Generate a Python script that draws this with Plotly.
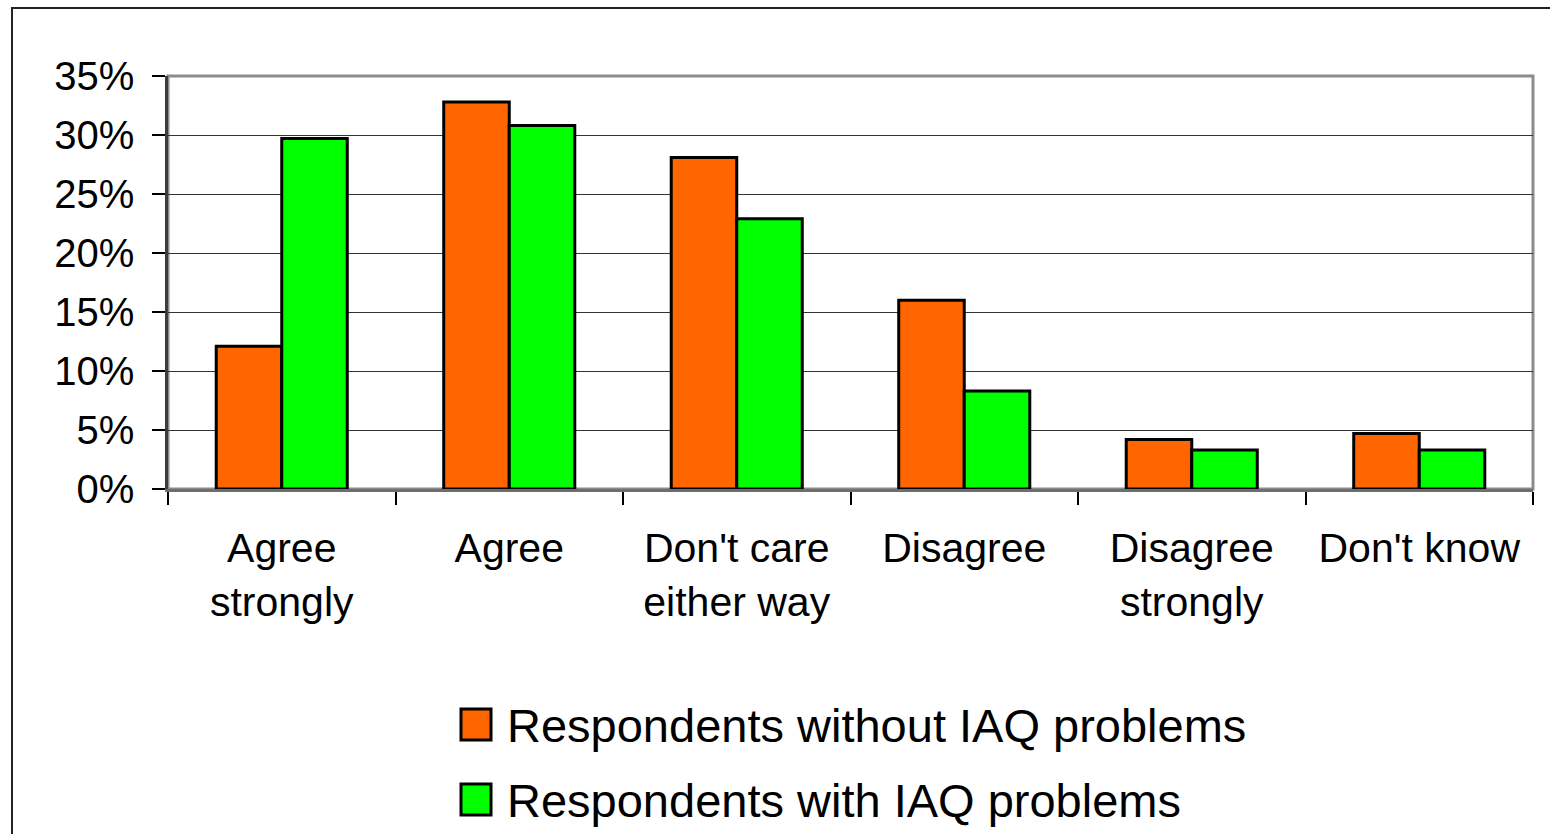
import plotly.graph_objects as go

categories = ["Agree<br>strongly", "Agree", "Don't care<br>either way", "Disagree",
              "Disagree<br>strongly", "Don't know"]
without_iaq = [12.1, 32.8, 28.1, 16.0, 4.2, 4.7]
with_iaq = [29.7, 30.8, 22.9, 8.3, 3.3, 3.3]
series_names = ["Respondents without IAQ problems", "Respondents with IAQ problems"]
series_colors = ["#FF6600", "#00FF00"]
y_ticks = [0, 5, 10, 15, 20, 25, 30, 35]
y_tick_text = [f"{v}%" for v in y_ticks]

W, H = 1550, 834
L, R, T, B = 168, 17, 76, 345
PW, PH = W - L - R, H - T - B

FONT = "Arial, 'Liberation Sans', sans-serif"


def px_x(x):
    return (x - L) / PW


def px_y(y):
    return (H - B - y) / PH


fig = go.Figure()
for name, vals, col in zip(series_names, [without_iaq, with_iaq], series_colors):
    fig.add_trace(go.Bar(
        x=categories, y=vals, name=name, showlegend=False,
        marker=dict(color=col, line=dict(color="black", width=3)),
    ))

shapes = [
    # outer frame (left and top edges visible)
    dict(type="rect", xref="paper", yref="paper",
         x0=px_x(12), x1=px_x(1600), y0=px_y(8), y1=px_y(900),
         line=dict(color="#222222", width=2), layer="below"),
    # plot area border
    dict(type="rect", xref="paper", yref="paper", x0=0, x1=1, y0=0, y1=1,
         line=dict(color="#8c8c8c", width=3), layer="below"),
]
annotations = []
legend_rows = [725, 800]
for name, col, yc in zip(series_names, series_colors, legend_rows):
    shapes.append(dict(type="rect", xref="paper", yref="paper",
                       x0=px_x(461), x1=px_x(491), y0=px_y(yc - 16), y1=px_y(yc + 15),
                       fillcolor=col, line=dict(color="black", width=3)))
    annotations.append(dict(xref="paper", yref="paper", x=px_x(505), y=px_y(yc),
                            xanchor="left", yanchor="middle", showarrow=False,
                            text=name, font=dict(size=47, color="black", family=FONT)))

fig.update_layout(
    width=W, height=H,
    margin=dict(l=L, r=R, t=T, b=B, pad=0),
    paper_bgcolor="white", plot_bgcolor="white",
    barmode="group", bargap=0.424, bargroupgap=0,
    font=dict(family=FONT, color="black", size=41),
    shapes=shapes, annotations=annotations,
    xaxis=dict(
        type="category", tickson="boundaries", ticks="outside", ticklen=13,
        tickcolor="black", tickwidth=1.5, showline=True, linecolor="#6e6e6e",
        linewidth=3, showgrid=False, tickfont=dict(size=41), ticklabelstandoff=21,
    ),
    yaxis=dict(
        range=[0, 35], tickmode="array", tickvals=y_ticks, ticktext=y_tick_text,
        ticks="outside", ticklen=13, tickcolor="black", tickwidth=1.5, showline=True,
        linecolor="#3c3c3c", linewidth=2.5, showgrid=True, gridcolor="#333333",
        gridwidth=1.2, zeroline=False, tickfont=dict(size=40), ticklabelstandoff=10,
    ),
)

fig.write_html("out.html")
